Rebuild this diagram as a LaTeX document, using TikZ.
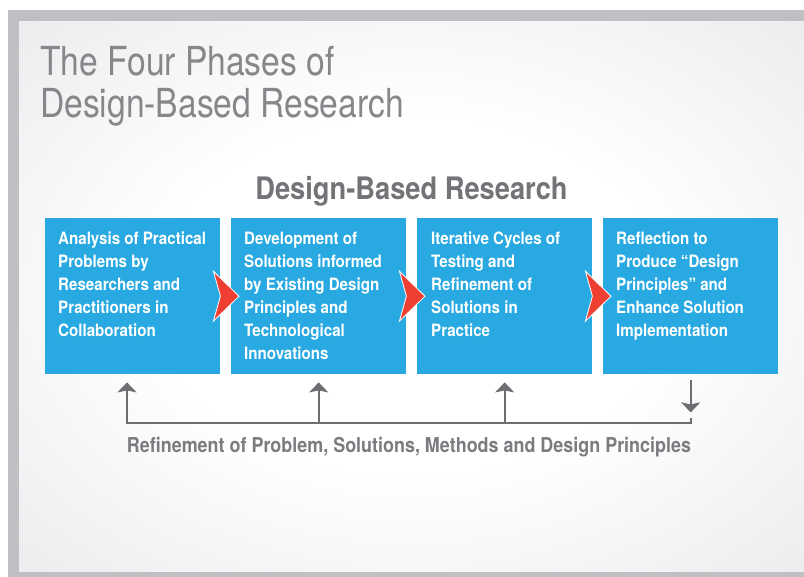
\documentclass[tikz,border=0pt]{standalone}
\usepackage{fontspec}
\setmainfont{TeX Gyre Heros}
\newfontfamily\titlefont{TeX Gyre Heros}[FakeStretch=0.84]
\newfontfamily\headfont{TeX Gyre Heros}[FakeStretch=0.88]
\newfontfamily\bottomfont{TeX Gyre Heros}[FakeStretch=0.875]
\newfontfamily\boxfont{TeX Gyre Heros}[FakeStretch=0.89]
\usetikzlibrary{arrows.meta,calc}
\definecolor{frame}{HTML}{BFC0C4}
\definecolor{bgmid}{HTML}{EBECED}
\definecolor{bgedge}{HTML}{DADBDD}
\definecolor{boxblue}{HTML}{29A9E1}
\definecolor{titlegrey}{HTML}{86878A}
\definecolor{headgrey}{HTML}{737477}
\definecolor{bottomgrey}{HTML}{7B7C7F}
\definecolor{arrred}{HTML}{EE3F32}
\definecolor{linegrey}{HTML}{6D6E71}
\pgfdeclareradialshading{bgshade}{\pgfpoint{0bp}{0bp}}{color(0bp)=(white); color(16bp)=(white); color(36bp)=(bgmid); color(50bp)=(bgedge)}
\tikzset{
  phase/.style={fill=boxblue, minimum width=175pt, minimum height=156pt, inner sep=0pt, anchor=north west},
  phasetext/.style={anchor=north west, inner sep=0pt, text=white, align=left,
    font=\boxfont\bfseries\fontsize{17}{23}\selectfont},
  chevron/.style={fill=arrred, draw=white, line width=0.8pt, line join=miter},
  fb/.style={draw=linegrey, line width=2pt},
  fbarrow/.style={fb, -{Stealth[length=10pt,width=19pt,inset=2pt]}},
  titletext/.style={anchor=north west, inner sep=0pt, align=left, text=titlegrey,
    font=\titlefont\fontsize{40}{42}\selectfont},
  headtext/.style={anchor=base, inner sep=0pt, text=headgrey,
    font=\headfont\bfseries\fontsize{31}{36}\selectfont},
  bottomtext/.style={anchor=base, inner sep=0pt, text=bottomgrey,
    font=\bottomfont\bfseries\fontsize{20.5}{24}\selectfont}
}
\begin{document}
\begin{tikzpicture}[x=1pt,y=-1pt]
\useasboundingbox (0,0) rectangle (804,577);
\fill[white] (0,0) rectangle (804,577);
\fill[frame] (8,10) rectangle (804,577);
\shade[shading=bgshade] (19,22) rectangle (804,571);

\node[titletext] (title) at (40,46) {The Four Phases of\\Design-Based Research};
\node[headtext] (head) at (411.5,200) {Design-Based Research};

\node[phase] (b1) at (45,218) {};
\node[phase] (b2) at (231,218) {};
\node[phase] (b3) at (417,218) {};
\node[phase] (b4) at (603,218) {};

\node[phasetext] (t1) at ([xshift=13pt,yshift=-14pt]b1.north west) {Analysis of Practical\\Problems by\\Researchers and\\Practitioners in\\Collaboration};
\node[phasetext] (t2) at ([xshift=13pt,yshift=-14pt]b2.north west) {Development of\\Solutions informed\\by Existing Design\\Principles and\\Technological\\Innovations};
\node[phasetext] (t3) at ([xshift=14pt,yshift=-14pt]b3.north west) {Iterative Cycles of\\Testing and\\Refinement of\\Solutions in\\Practice};
\node[phasetext] (t4) at ([xshift=13pt,yshift=-14pt]b4.north west) {Reflection to\\Produce “Design\\Principles” and\\Enhance Solution\\Implementation};

\path[chevron] ($(b1.east)+(-7,-25)$) -- ($(b2.west)+(8,0)$) -- ($(b1.east)+(-7,25)$) -- (b1.east) -- cycle;
\path[chevron] ($(b2.east)+(-7,-25)$) -- ($(b3.west)+(8,0)$) -- ($(b2.east)+(-7,25)$) -- (b2.east) -- cycle;
\path[chevron] ($(b3.east)+(-7,-25)$) -- ($(b4.west)+(8,0)$) -- ($(b3.east)+(-7,25)$) -- (b3.east) -- cycle;

\coordinate (f1) at (127,423);
\coordinate (f2) at (b2.south |- f1);
\coordinate (f3) at (b3.south |- f1);
\coordinate (f4) at (b4.south |- f1);
\draw[fbarrow, shorten >=8pt] ([yshift=5pt]f4) -- (f4) -- (f1) -- (f1 |- b1.south);
\draw[fbarrow, shorten >=8pt] (f2) -- (b2.south);
\draw[fbarrow, shorten >=8pt] (f3) -- (b3.south);
\draw[fbarrow] ([yshift=-6pt]b4.south) -- ([yshift=-38pt]b4.south);

\node[bottomtext] (refine) at (409,453) {Refinement of Problem, Solutions, Methods and Design Principles};
\end{tikzpicture}
\end{document}
